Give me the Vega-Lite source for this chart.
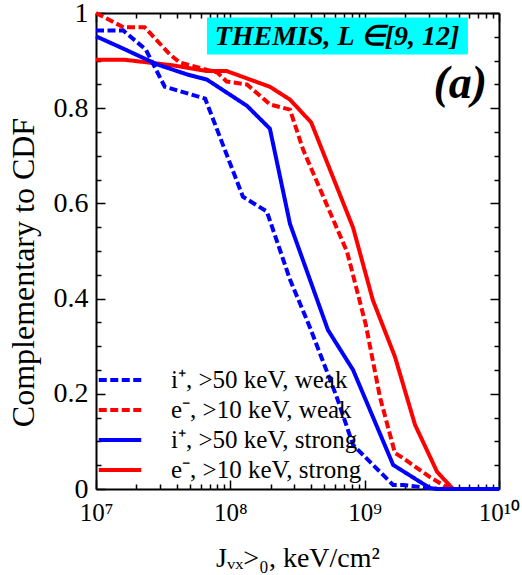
{
  "$schema": "https://vega.github.io/schema/vega-lite/v6.json",
  "width": 403,
  "height": 476,
  "autosize": {"type": "none"},
  "padding": {"left": 96, "top": 13, "right": 23, "bottom": 86},
  "background": "white",
  "config": {
    "view": {"stroke": null},
    "font": "Liberation Serif",
    "axis": {
      "grid": false,
      "domainColor": "black",
      "domainWidth": 2,
      "tickColor": "black",
      "tickWidth": 1.5,
      "labelFont": "Liberation Serif",
      "labelFontSize": 24,
      "labelColor": "black",
      "labelFlush": false,
      "labelOverlap": false,
      "labelBound": false,
      "titleFont": "Liberation Serif",
      "titleFontWeight": "normal",
      "titleColor": "black"
    },
    "legend": {
      "labelFont": "Liberation Serif",
      "labelFontSize": 25,
      "labelColor": "black"
    }
  },
  "layer": [
    {
      "data": {
        "values": [
          {"series": "e⁻, >10 keV, weak", "J": 1e7, "cdf": 1.0},
          {"series": "e⁻, >10 keV, weak", "J": 1.6e7, "cdf": 0.97},
          {"series": "e⁻, >10 keV, weak", "J": 2.3e7, "cdf": 0.97},
          {"series": "e⁻, >10 keV, weak", "J": 3.55e7, "cdf": 0.913},
          {"series": "e⁻, >10 keV, weak", "J": 4.2e7, "cdf": 0.896},
          {"series": "e⁻, >10 keV, weak", "J": 8e7, "cdf": 0.875},
          {"series": "e⁻, >10 keV, weak", "J": 9.4e7, "cdf": 0.856},
          {"series": "e⁻, >10 keV, weak", "J": 1.33e8, "cdf": 0.85},
          {"series": "e⁻, >10 keV, weak", "J": 1.97e8, "cdf": 0.808},
          {"series": "e⁻, >10 keV, weak", "J": 2.78e8, "cdf": 0.797},
          {"series": "e⁻, >10 keV, weak", "J": 3.48e8, "cdf": 0.713},
          {"series": "e⁻, >10 keV, weak", "J": 7.4e8, "cdf": 0.498},
          {"series": "e⁻, >10 keV, weak", "J": 1.02e9, "cdf": 0.345},
          {"series": "e⁻, >10 keV, weak", "J": 1.3e9, "cdf": 0.193},
          {"series": "e⁻, >10 keV, weak", "J": 1.68e9, "cdf": 0.0757},
          {"series": "e⁻, >10 keV, weak", "J": 1.93e9, "cdf": 0.065},
          {"series": "e⁻, >10 keV, weak", "J": 3.06e9, "cdf": 0.025},
          {"series": "e⁻, >10 keV, weak", "J": 4.3e9, "cdf": 0.0},
          {"series": "e⁻, >10 keV, weak", "J": 1e10, "cdf": 0.0},

          {"series": "e⁻, >10 keV, strong", "J": 1e7, "cdf": 0.902},
          {"series": "e⁻, >10 keV, strong", "J": 1.6e7, "cdf": 0.902},
          {"series": "e⁻, >10 keV, strong", "J": 3.75e7, "cdf": 0.89},
          {"series": "e⁻, >10 keV, strong", "J": 6.7e7, "cdf": 0.878},
          {"series": "e⁻, >10 keV, strong", "J": 9.4e7, "cdf": 0.878},
          {"series": "e⁻, >10 keV, strong", "J": 1.97e8, "cdf": 0.845},
          {"series": "e⁻, >10 keV, strong", "J": 2.78e8, "cdf": 0.818},
          {"series": "e⁻, >10 keV, strong", "J": 4e8, "cdf": 0.77},
          {"series": "e⁻, >10 keV, strong", "J": 8.2e8, "cdf": 0.549},
          {"series": "e⁻, >10 keV, strong", "J": 1.15e9, "cdf": 0.397},
          {"series": "e⁻, >10 keV, strong", "J": 1.68e9, "cdf": 0.278},
          {"series": "e⁻, >10 keV, strong", "J": 2.37e9, "cdf": 0.135},
          {"series": "e⁻, >10 keV, strong", "J": 3.46e9, "cdf": 0.036},
          {"series": "e⁻, >10 keV, strong", "J": 4.55e9, "cdf": 0.0},
          {"series": "e⁻, >10 keV, strong", "J": 1e10, "cdf": 0.0},

          {"series": "i⁺, >50 keV, strong", "J": 1e7, "cdf": 0.951},
          {"series": "i⁺, >50 keV, strong", "J": 1.6e7, "cdf": 0.925},
          {"series": "i⁺, >50 keV, strong", "J": 2.85e7, "cdf": 0.892},
          {"series": "i⁺, >50 keV, strong", "J": 4.76e7, "cdf": 0.871},
          {"series": "i⁺, >50 keV, strong", "J": 6.7e7, "cdf": 0.86},
          {"series": "i⁺, >50 keV, strong", "J": 1.33e8, "cdf": 0.805},
          {"series": "i⁺, >50 keV, strong", "J": 1.97e8, "cdf": 0.757},
          {"series": "i⁺, >50 keV, strong", "J": 2.78e8, "cdf": 0.557},
          {"series": "i⁺, >50 keV, strong", "J": 5.33e8, "cdf": 0.334},
          {"series": "i⁺, >50 keV, strong", "J": 8.2e8, "cdf": 0.25},
          {"series": "i⁺, >50 keV, strong", "J": 1.63e9, "cdf": 0.0505},
          {"series": "i⁺, >50 keV, strong", "J": 3.06e9, "cdf": 0.002},
          {"series": "i⁺, >50 keV, strong", "J": 3.5e9, "cdf": 0.0},
          {"series": "i⁺, >50 keV, strong", "J": 1e10, "cdf": 0.0},

          {"series": "i⁺, >50 keV, weak", "J": 1e7, "cdf": 0.963},
          {"series": "i⁺, >50 keV, weak", "J": 1.6e7, "cdf": 0.963},
          {"series": "i⁺, >50 keV, weak", "J": 2.35e7, "cdf": 0.923},
          {"series": "i⁺, >50 keV, weak", "J": 3.25e7, "cdf": 0.845},
          {"series": "i⁺, >50 keV, weak", "J": 6.5e7, "cdf": 0.82},
          {"series": "i⁺, >50 keV, weak", "J": 1.24e8, "cdf": 0.614},
          {"series": "i⁺, >50 keV, weak", "J": 1.87e8, "cdf": 0.583},
          {"series": "i⁺, >50 keV, weak", "J": 2.78e8, "cdf": 0.44},
          {"series": "i⁺, >50 keV, weak", "J": 3.92e8, "cdf": 0.339},
          {"series": "i⁺, >50 keV, weak", "J": 6.2e8, "cdf": 0.193},
          {"series": "i⁺, >50 keV, weak", "J": 8.2e8, "cdf": 0.0925},
          {"series": "i⁺, >50 keV, weak", "J": 1.63e9, "cdf": 0.0084},
          {"series": "i⁺, >50 keV, weak", "J": 1.93e9, "cdf": 0.0084},
          {"series": "i⁺, >50 keV, weak", "J": 3.06e9, "cdf": 0.002},
          {"series": "i⁺, >50 keV, weak", "J": 3.5e9, "cdf": 0.0},
          {"series": "i⁺, >50 keV, weak", "J": 1e10, "cdf": 0.0}
        ]
      },
      "mark": {"type": "line", "strokeWidth": 4, "strokeCap": "butt", "clip": false},
      "encoding": {
        "x": {
          "field": "J",
          "type": "quantitative",
          "scale": {"type": "log", "domain": [1e7, 1e10], "nice": false},
          "axis": {
            "orient": "bottom",
            "values": [1e7, 1e8, 1e9, 1e10],
            "labelExpr": "datum.value < 5e7 ? '10⁷' : datum.value < 5e8 ? '10⁸' : datum.value < 5e9 ? '10⁹' : '10¹⁰'",
            "labelFontSize": 25,
            "tickSize": -9,
            "labelPadding": 20,
            "title": "Jᵥₓ˃₀,  keV/cm²",
            "titleFontSize": 28,
            "titlePadding": 19
          }
        },
        "y": {
          "field": "cdf",
          "type": "quantitative",
          "scale": {"domain": [0, 1], "nice": false, "zero": false},
          "axis": {
            "orient": "left",
            "values": [0, 0.2, 0.4, 0.6, 0.8, 1],
            "labelExpr": "format(datum.value, '~g')",
            "labelFontSize": 28,
            "tickSize": -9,
            "labelPadding": 17,
            "title": "Complementary to CDF",
            "titleFontSize": 32,
            "titlePadding": 13,
            "titleY": 259
          }
        },
        "color": {
          "field": "series",
          "type": "nominal",
          "scale": {
            "domain": ["i⁺, >50 keV, weak", "e⁻, >10 keV, weak", "i⁺, >50 keV, strong", "e⁻, >10 keV, strong"],
            "range": ["#0000ff", "#ff0000", "#0000ff", "#ff0000"]
          },
          "legend": {
            "title": null,
            "orient": "none",
            "legendX": 11.5,
            "legendY": 354.5,
            "padding": 0,
            "symbolType": "M-2.5,0H2.5",
            "symbolSize": 289,
            "symbolStrokeWidth": 4,
            "labelOffset": 38.5,
            "labelLimit": 400,
            "rowPadding": 4
          }
        },
        "strokeDash": {
          "field": "series",
          "type": "nominal",
          "scale": {
            "domain": ["i⁺, >50 keV, weak", "e⁻, >10 keV, weak", "i⁺, >50 keV, strong", "e⁻, >10 keV, strong"],
            "range": [[8, 3.5], [8, 3.5], [1, 0], [1, 0]]
          },
          "legend": {
            "title": null,
            "orient": "none",
            "legendX": 11.5,
            "legendY": 354.5,
            "padding": 0,
            "symbolType": "M-2.5,0H2.5",
            "symbolSize": 289,
            "symbolStrokeWidth": 4,
            "labelOffset": 38.5,
            "labelLimit": 400,
            "rowPadding": 4
          }
        }
      }
    },
    {
      "data": {"values": [{}]},
      "mark": {"type": "rect", "fill": "#00ffff"},
      "encoding": {
        "x": {
          "datum": 6.7e7,
          "type": "quantitative",
          "axis": {
            "orient": "bottom",
            "values": [2e7, 3e7, 4e7, 5e7, 6e7, 7e7, 8e7, 9e7, 2e8, 3e8, 4e8, 5e8, 6e8, 7e8, 8e8, 9e8, 2e9, 3e9, 4e9, 5e9, 6e9, 7e9, 8e9, 9e9],
            "tickSize": -5,
            "labels": false,
            "domain": false,
            "title": null
          }
        },
        "x2": {"datum": 5.87e9},
        "y": {
          "datum": 0.9905,
          "type": "quantitative",
          "axis": {
            "orient": "left",
            "values": [0.05, 0.1, 0.15, 0.25, 0.3, 0.35, 0.45, 0.5, 0.55, 0.65, 0.7, 0.75, 0.85, 0.9, 0.95],
            "tickSize": -5,
            "labels": false,
            "domain": false,
            "title": null
          }
        },
        "y2": {"datum": 0.9127}
      }
    },
    {
      "data": {"values": [{}]},
      "mark": {
        "type": "text",
        "text": "THEMIS, L ∈[9, 12]",
        "font": "Liberation Serif",
        "fontSize": 28,
        "fontStyle": "italic",
        "fontWeight": "bold",
        "align": "center",
        "baseline": "middle",
        "color": "black"
      },
      "encoding": {
        "x": {
          "datum": 6.22e8,
          "type": "quantitative",
          "axis": {
            "orient": "top",
            "values": [1e7, 1e8, 1e9, 1e10],
            "tickSize": -9,
            "labels": false,
            "title": null
          }
        },
        "y": {
          "datum": 0.9506,
          "type": "quantitative",
          "axis": {
            "orient": "right",
            "values": [0, 0.2, 0.4, 0.6, 0.8, 1],
            "tickSize": -9,
            "labels": false,
            "title": null
          }
        }
      }
    },
    {
      "data": {"values": [{}]},
      "mark": {
        "type": "text",
        "text": "(a)",
        "font": "Liberation Serif",
        "fontSize": 46,
        "fontStyle": "italic",
        "fontWeight": "bold",
        "align": "right",
        "baseline": "middle",
        "color": "black"
      },
      "encoding": {
        "x": {
          "datum": 8.15e9,
          "type": "quantitative",
          "axis": {
            "orient": "top",
            "values": [2e7, 3e7, 4e7, 5e7, 6e7, 7e7, 8e7, 9e7, 2e8, 3e8, 4e8, 5e8, 6e8, 7e8, 8e8, 9e8, 2e9, 3e9, 4e9, 5e9, 6e9, 7e9, 8e9, 9e9],
            "tickSize": -5,
            "labels": false,
            "domain": false,
            "title": null
          }
        },
        "y": {
          "datum": 0.85,
          "type": "quantitative",
          "axis": {
            "orient": "right",
            "values": [0.05, 0.1, 0.15, 0.25, 0.3, 0.35, 0.45, 0.5, 0.55, 0.65, 0.7, 0.75, 0.85, 0.9, 0.95],
            "tickSize": -5,
            "labels": false,
            "domain": false,
            "title": null
          }
        }
      }
    }
  ],
  "resolve": {"axis": {"x": "independent", "y": "independent"}}
}
